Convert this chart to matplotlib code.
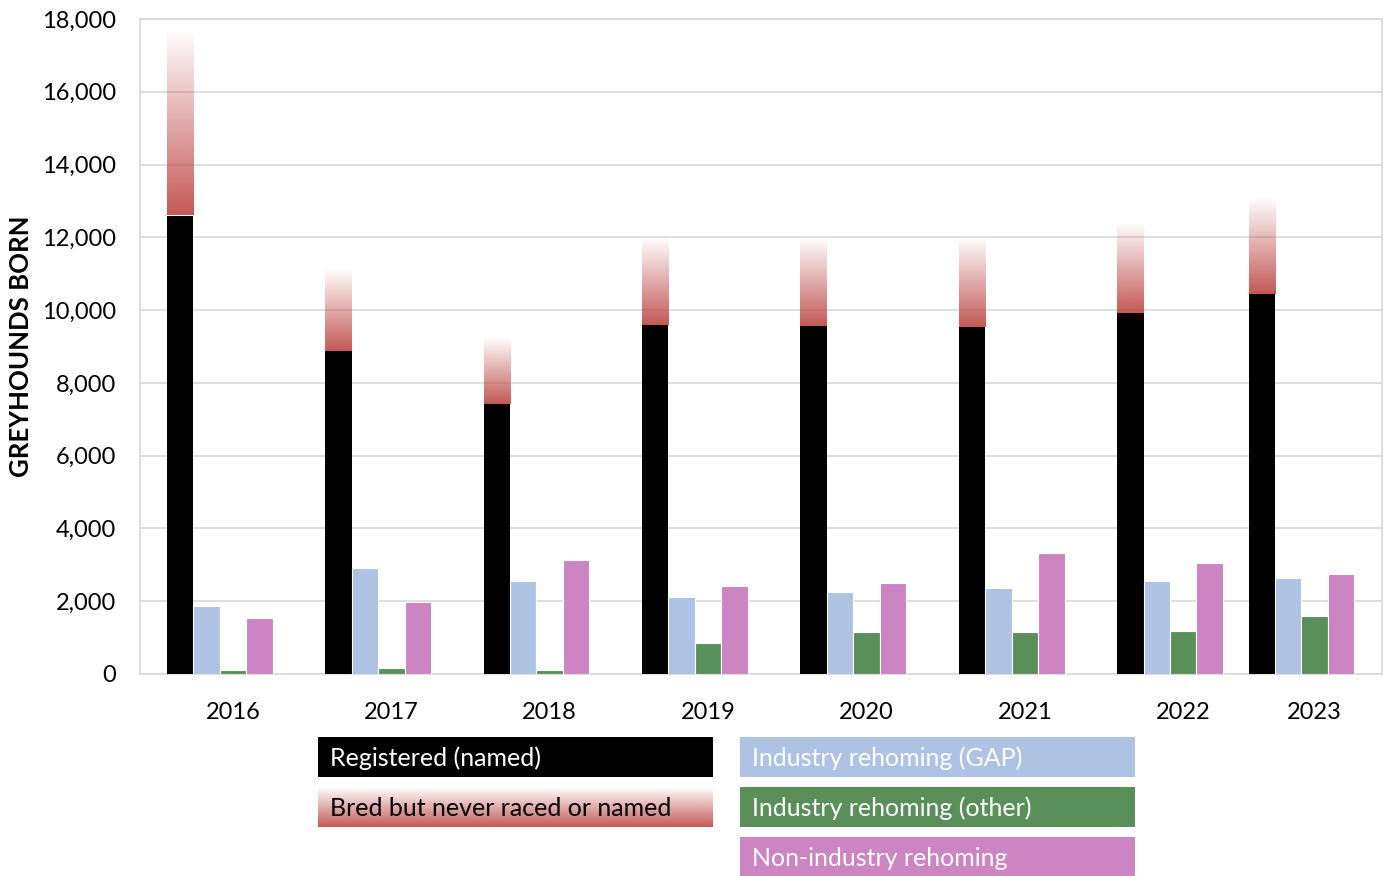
import matplotlib.pyplot as plt
import numpy as np
from matplotlib.colors import to_rgb
from matplotlib.patches import Rectangle

plt.rcParams['font.family'] = ['Lato', 'DejaVu Sans']

# data
years = ['2016', '2017', '2018', '2019', '2020', '2021', '2022', '2023']
registered = [12600, 8880, 7420, 9590, 9560, 9530, 9920, 10440]
bred_total = [17700, 11150, 9260, 12000, 11980, 11980, 12420, 13080]
gap_rehoming = [1870, 2910, 2560, 2120, 2250, 2360, 2560, 2640]
other_rehoming = [110, 165, 120, 850, 1150, 1150, 1180, 1590]
non_industry = [1540, 1980, 3130, 2420, 2500, 3330, 3050, 2750]

legend_left = ['Registered (named)', 'Bred but never raced or named']
legend_right = ['Industry rehoming (GAP)', 'Industry rehoming (other)', 'Non-industry rehoming']

BLACK = '#000000'
RED = '#c0504d'
BLUE = '#aec3e3'
GREEN = '#5a8f59'
PINK = '#cd84c2'
GRID = '#d9d9d9'

W, H = 1388, 876
fig = plt.figure(figsize=(W / 100, H / 100), dpi=100)
ax = fig.add_axes([140 / W, 1 - 674 / H, (1382 - 140) / W, (674 - 19) / H])

pos = np.arange(len(years), dtype=float)
pos[-1] = 6.83  # last group sits a bit closer in the original
w = 0.167

ax.bar(pos - 2 * w, registered, w, color=BLACK, linewidth=0, zorder=3)
ax.bar(pos - w, gap_rehoming, w, color=BLUE, edgecolor='white', linewidth=0.8, zorder=3)
ax.bar(pos, other_rehoming, w, color=GREEN, edgecolor='white', linewidth=0.8, zorder=3)
ax.bar(pos + w, non_industry, w, color=PINK, edgecolor='white', linewidth=0.8, zorder=3)


def fade_image(n=256, top_alpha=0.0, bottom_alpha=0.95):
    img = np.zeros((n, 1, 4))
    img[:, 0, :3] = to_rgb(RED)
    img[:, 0, 3] = np.linspace(bottom_alpha, top_alpha, n)
    return img


grad = fade_image()
for x, lo, hi in zip(pos - 2 * w, registered, bred_total):
    ax.imshow(grad, extent=[x - w / 2, x + w / 2, lo, hi], origin='lower',
              aspect='auto', zorder=3, interpolation='bilinear')

ax.set_xlim(-0.587, 7.255)
ax.set_ylim(0, 18000)
ax.set_yticks(range(0, 18001, 2000))
ax.set_yticklabels([f'{v:,}' for v in range(0, 18001, 2000)])
ax.set_xticks(pos)
ax.set_xticklabels(years)
ax.tick_params(axis='both', length=0, labelsize=17, colors='black')
ax.tick_params(axis='x', pad=20)
ax.tick_params(axis='y', pad=17)
ax.grid(axis='y', color=GRID, linewidth=1.2, zorder=0)
ax.set_axisbelow(True)
for s in ax.spines.values():
    s.set_color(GRID)
    s.set_linewidth(1.2)
fig.text(21 / W, 1 - 346 / H, 'GREYHOUNDS BORN', rotation=90, fontsize=18.5,
         fontweight='bold', ha='center', va='center')

# legend boxes under the chart
def fig_box(x0, y0, x1, y1):
    return [x0 / W, 1 - y1 / H, (x1 - x0) / W, (y1 - y0) / H]


ax_l1 = fig.add_axes(fig_box(318, 737, 713, 777))
ax_l1.add_patch(Rectangle((0, 0), 1, 1, color=BLACK))
ax_l1.text(0.03, 0.47, legend_left[0], color='white', fontsize=18, va='center')

ax_l2 = fig.add_axes(fig_box(318, 787, 713, 827))
ax_l2.imshow(fade_image(top_alpha=0.0, bottom_alpha=0.95), extent=[0, 1, 0, 1],
             origin='lower', aspect='auto', interpolation='bilinear')
ax_l2.text(0.03, 0.47, legend_left[1], color='black', fontsize=18, va='center')

for i, (label, col) in enumerate(zip(legend_right, [BLUE, GREEN, PINK])):
    y0 = 737 + i * 50
    axl = fig.add_axes(fig_box(740, y0, 1135, y0 + 40))
    axl.add_patch(Rectangle((0, 0), 1, 1, color=col))
    axl.text(0.03, 0.47, label, color='white', fontsize=18, va='center')

for a in fig.axes[1:]:
    a.set_xlim(0, 1)
    a.set_ylim(0, 1)
    a.axis('off')

fig.savefig('out.png', dpi=100)
